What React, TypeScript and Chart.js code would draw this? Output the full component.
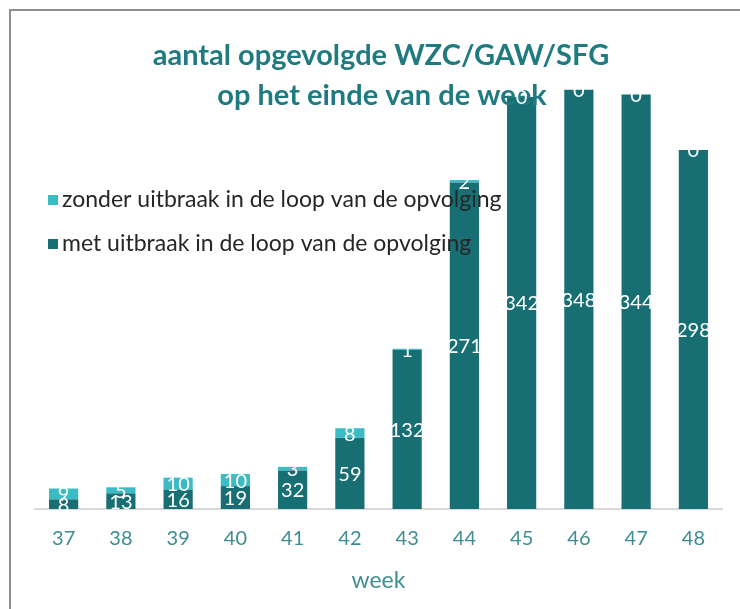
import React, { useEffect, useRef } from 'react';
import { Chart, registerables } from 'chart.js';

Chart.register(...registerables);

const weeks = ['37', '38', '39', '40', '41', '42', '43', '44', '45', '46', '47', '48'];
const metUitbraak = [8, 13, 16, 19, 32, 59, 132, 271, 342, 348, 344, 298];
const zonderUitbraak = [9, 5, 10, 10, 3, 8, 1, 2, 0, 0, 0, 0];
const titleLines = ['aantal opgevolgde WZC/GAW/SFG', 'op het einde van de week'];
const legendZonder = 'zonder uitbraak in de loop van de opvolging';
const legendMet = 'met uitbraak in de loop van de opvolging';
const axisTitle = 'week';

const DARK = '#176f74';
const LIGHT = '#3bbcc4';
const TITLE_COLOR = '#1f7b80';
const TICK_COLOR = '#3d8d92';
const FONT = 'Lato, "Open Sans", sans-serif';

const decorPlugin = {
  id: 'decor',
  beforeDraw(chart: any) {
    const ctx = chart.ctx;
    ctx.save();
    ctx.fillStyle = '#ffffff';
    ctx.fillRect(0, 0, chart.width, chart.height);
    ctx.strokeStyle = '#8f8f8f';
    ctx.lineWidth = 2;
    ctx.beginPath();
    ctx.moveTo(10, chart.height);
    ctx.lineTo(10, 10);
    ctx.lineTo(chart.width, 10);
    ctx.stroke();
    ctx.restore();
  },
  afterDatasetsDraw(chart: any) {
    const ctx = chart.ctx;
    ctx.save();
    // title
    ctx.fillStyle = TITLE_COLOR;
    ctx.font = `bold 29px ${FONT}`;
    ctx.textAlign = 'center';
    ctx.textBaseline = 'middle';
    ctx.fillText(titleLines[0], 381, 56);
    ctx.fillText(titleLines[1], 382, 96);

    // data labels
    ctx.fillStyle = '#ffffff';
    ctx.font = `20px ${FONT}`;
    chart.data.datasets.forEach((ds: any, i: number) => {
      const meta = chart.getDatasetMeta(i);
      meta.data.forEach((el: any, j: number) => {
        const v = ds.data[j];
        const yc = (el.y + el.base) / 2;
        ctx.fillText(String(v), el.x, yc + 1);
      });
    });

    // legend
    ctx.textAlign = 'left';
    ctx.font = `23px ${FONT}`;
    ctx.fillStyle = LIGHT;
    ctx.fillRect(48, 195, 10, 10);
    ctx.fillStyle = DARK;
    ctx.fillRect(48, 239, 10, 10);
    ctx.fillStyle = '#262626';
    ctx.fillText(legendZonder, 62, 200);
    ctx.fillText(legendMet, 62, 244);
    ctx.restore();
  },
};

export default function App() {
  const ref = useRef<HTMLCanvasElement>(null);
  useEffect(() => {
    document.body.style.margin = '0';
    const chart = new Chart(ref.current!, {
      type: 'bar',
      data: {
        labels: weeks,
        datasets: [
          {
            label: legendMet,
            data: metUitbraak,
            backgroundColor: DARK,
            barPercentage: 0.51,
            categoryPercentage: 1,
          },
          {
            label: legendZonder,
            data: zonderUitbraak,
            backgroundColor: LIGHT,
            barPercentage: 0.51,
            categoryPercentage: 1,
          },
        ],
      },
      options: {
        animation: false,
        responsive: false,
        layout: { padding: { left: 35, right: 18, top: 27, bottom: 8 } },
        plugins: { legend: { display: false }, tooltip: { enabled: false }, title: { display: false } },
        scales: {
          y: { display: false, stacked: true, min: 0, max: 400 },
          x: {
            stacked: true,
            grid: { display: false, drawTicks: false },
            border: { display: true, color: '#d9d9d9', width: 2 },
            ticks: { color: TICK_COLOR, font: { family: FONT, size: 20 }, padding: 18 },
            title: {
              display: true,
              text: axisTitle,
              color: TICK_COLOR,
              font: { family: FONT, size: 23, lineHeight: 1 },
              padding: { top: 0, bottom: 9 },
            },
          },
        },
      },
      plugins: [decorPlugin],
    });
    return () => chart.destroy();
  }, []);
  return <canvas ref={ref} width={740} height={609} style={{ display: 'block' }} />;
}
